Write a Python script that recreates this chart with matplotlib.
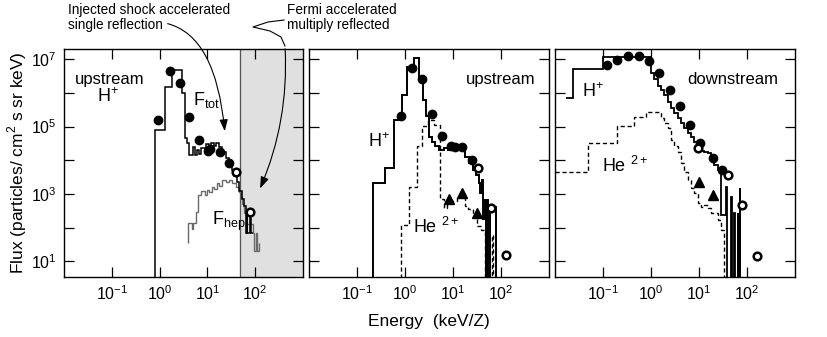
import matplotlib
matplotlib.use("Agg")
import matplotlib.pyplot as plt
import numpy as np
from matplotlib.patches import FancyArrowPatch
from matplotlib.lines import Line2D
from matplotlib.transforms import IdentityTransform

# ---- data: step spectra (bin edges in keV/Z, log10 flux per bin) ----
# panel 1, upstream H+
ftot_e = [0.6, 0.81, 1.27, 1.80, 2.92, 3.43, 3.77, 4.2, 4.95, 5.6, 6.2, 6.8, 7.5, 8.7, 9.5, 11, 12, 14,
          15.5, 17.8, 20, 24.5, 28, 32, 36.5, 41, 46, 52, 58, 64, 66, 68, 78, 80, 88]
ftot_v = [0.3, 4.90, 6.16, 6.68, 5.99, 4.66, 4.51, 4.16, 4.38, 4.16, 4.31, 4.19, 4.37, 4.31, 4.49, 4.40,
          4.52, 4.43, 4.52, 4.40, 4.25, 4.07, 3.86, 3.71, 3.54, 3.36, 3.10, 2.85, 2.65, 1.85, 2.50, 1.85,
          2.50, 1.85]
fhep_e = [4.0, 4.7, 5.0, 5.9, 6.5, 7.5, 8.7, 10, 11, 12.5, 14, 16, 17.8, 20.5, 24.5, 28.7, 33, 39.5,
          46, 50, 53, 58, 64, 88, 96, 102, 110, 118]
fhep_v = [2.15, 1.95, 2.15, 2.48, 2.98, 3.10, 2.97, 3.12, 3.05, 3.22, 3.15, 3.32, 3.25, 3.42, 3.37,
          3.42, 3.32, 3.22, 3.07, 2.90, 2.70, 2.44, 2.10, 1.85, 1.30, 1.85, 1.30]
fhep_base = 1.54
p1_fill_E = [0.92, 1.62, 2.61, 4.22, 6.8, 10.2, 11.4, 18.7, 28.7]
p1_fill_F = [5.20, 6.65, 6.29, 5.28, 4.61, 4.29, 4.33, 4.24, 3.91]
p1_open_E = [39.5, 77.5]
p1_open_F = [3.66, 2.48]
fermi_lo = 47

# panel 2, upstream H+ and He2+
h2_e = [0.15, 0.215, 0.38, 0.59, 0.88, 1.12, 1.54, 1.96, 2.35, 2.8, 3.1, 3.6, 4.3, 5.2, 6.5, 8, 10, 12,
        15, 18, 22, 26, 30, 34, 37, 40, 43, 46, 48, 51, 53, 58, 77, 80]
h2_v = [0.3, 3.32, 3.77, 5.20, 5.94, 6.78, 7.03, 6.48, 5.79, 5.30, 4.69, 4.55, 4.41, 4.31, 4.36, 4.30,
        4.38, 4.33, 4.30, 4.11, 3.92, 3.72, 3.57, 3.33, 3.03, 3.42, 2.25, 2.82, 0.3, 2.82, 0.3, 2.63, 0.3]
he2_e = [0.6, 0.81, 1.21, 1.81, 2.29, 3.0, 4.0, 5.4, 6.5, 7.5, 9, 12, 15, 18, 21, 26, 32, 38, 46, 64,
         67, 75]
he2_v = [0.3, 2.08, 3.22, 4.41, 5.02, 5.20, 5.05, 2.85, 2.60, 2.85, 2.80, 2.95, 2.90, 2.65, 2.55, 2.35,
         2.05, 1.93, 0.3, 1.80, 0.3]
p2_fill_E = [0.81, 1.38, 2.22, 3.6, 5.8, 8.9, 11, 15.6, 24.5]
p2_fill_F = [5.32, 6.73, 6.41, 5.38, 4.72, 4.43, 4.40, 4.39, 4.01]
p2_open_E = [33.7, 63, 125]
p2_open_F = [3.77, 2.58, 1.19]
p2_tri_E = [8.3, 15.2, 31]
p2_tri_F = [2.85, 3.02, 2.43]

# panel 3, downstream H+ and He2+
h3_e = [0.017, 0.024, 0.0986, 1.0, 1.17, 1.38, 1.62, 1.90, 2.22, 2.61, 3.06, 3.59, 4.22, 4.95, 5.81,
        6.81, 8.0, 9.38, 11.0, 12.9, 15.2, 17.8, 20.9, 24.5, 28.7, 37, 38, 47, 48, 54, 55, 64, 65,
        71, 72, 74]
h3_v = [5.84, 6.71, 7.06, 6.58, 6.41, 6.19, 6.09, 5.94, 5.74, 5.55, 5.40, 5.25, 5.10, 4.95, 4.80,
        4.70, 4.55, 4.41, 4.29, 4.26, 4.21, 4.11, 3.86, 3.71, 2.38, 3.22, 0.3, 2.92, 0.3, 2.43, 0.3,
        2.43, 0.3, 3.17, 0.3]
he3_e = [0.01, 0.048, 0.2, 0.45, 0.79, 1.62, 1.90, 2.22, 2.61, 3.06, 3.59, 4.22, 4.95, 5.81, 6.81,
         8.0, 9.38, 11.0, 12.9, 15.2, 17.8, 20.9, 24.5, 28.7, 33.7, 36]
he3_v = [3.64, 4.51, 5.02, 5.27, 5.42, 5.25, 5.10, 4.95, 4.61, 4.41, 4.26, 3.91, 3.66, 3.42, 3.17,
         3.02, 2.73, 2.63, 2.68, 2.58, 2.43, 2.43, 2.23, 1.93, 0.3]
p3_fill_E = [0.121, 0.196, 0.336, 0.55, 0.89, 1.44, 2.45, 4.07, 6.6, 10.6, 19.3, 29.6]
p3_fill_F = [6.83, 6.96, 7.10, 7.08, 6.93, 6.58, 6.09, 5.61, 5.05, 4.51, 4.06, 3.71]
p3_open_E = [9.4, 39.6, 79, 159]
p3_open_F = [4.36, 3.57, 2.68, 1.16]
p3_tri_E = [10.2, 19.9]
p3_tri_F = [3.37, 2.97]

NARROW = ["Liberation Sans Narrow", "Liberation Sans", "DejaVu Sans"]
plt.rcParams.update({"font.family": ["Liberation Sans", "DejaVu Sans"], "axes.linewidth": 1.0})

fig = plt.figure(figsize=(8.28, 3.37), dpi=100)
W, H = 828, 337
def axbox(x0, x1): return [x0 / W, 60 / H, (x1 - x0) / W, 228 / H]
ax1 = fig.add_axes(axbox(64, 303))
ax2 = fig.add_axes(axbox(309, 549))
ax3 = fig.add_axes(axbox(555, 795))

def setup(ax, ylab):
    ax.set_xscale("log"); ax.set_yscale("log")
    ax.set_xlim(1e-2, 1e3); ax.set_ylim(10 ** 0.54, 10 ** 7.3)
    ax.set_xticks([0.1, 1, 10, 100])
    ax.set_yticks([10.0 ** k for k in range(1, 8)])
    ax.minorticks_off()
    ax.tick_params(direction="in", top=True, right=True, length=7, width=0.9,
                   labelsize=11.5, labelfontfamily=NARROW, pad=5)
    if ylab:
        ax.set_yticklabels(["$\\mathdefault{10^{%d}}$" % k if k % 2 else "" for k in range(1, 8)])
    else:
        ax.set_yticklabels([])

def steps(ax, edges, logs, base=None, **kw):
    b = None if base is None else 10 ** base
    ax.stairs(10.0 ** np.array(logs), edges, baseline=b, **kw)

def pts(ax, E, F, kind):
    F = 10.0 ** np.array(F)
    if kind == "fill":
        ax.plot(E, F, "o", color="k", ms=6, zorder=5)
    elif kind == "open":
        ax.plot(E, F, "o", mfc="white", mec="k", mew=1.8, ms=5.5, zorder=5)
    else:
        ax.plot(E, F, "^", color="k", ms=7, zorder=5)

for ax, ylab in [(ax1, True), (ax2, False), (ax3, False)]:
    setup(ax, ylab)

# panel 1
ax1.axvspan(fermi_lo, 1e3, color="#e0e0e0", zorder=0)
ax1.axvline(fermi_lo, color="#555555", lw=0.9, zorder=0.5)
steps(ax1, fhep_e, fhep_v, base=fhep_base, color="#6a6a6a", lw=1.0)
steps(ax1, ftot_e, ftot_v, color="k", lw=1.1)
pts(ax1, p1_fill_E, p1_fill_F, "fill"); pts(ax1, p1_open_E, p1_open_F, "open")
ax1.text(0.046, 0.845, "upstream", transform=ax1.transAxes, fontsize=12, va="baseline")
ax1.text(0.138, 0.768, "H$^{\\mathdefault{+}}$", transform=ax1.transAxes, fontsize=13, va="baseline")
ax1.text(0.54, 0.754, "F$_{\\mathdefault{tot}}$", transform=ax1.transAxes, fontsize=13, va="baseline")
ax1.text(0.618, 0.228, "F$_{\\mathdefault{hep}}$", transform=ax1.transAxes, fontsize=13, va="baseline")

# panel 2
steps(ax2, he2_e, he2_v, color="k", lw=1.0, ls=(0, (3, 2)))
steps(ax2, h2_e, h2_v, color="k", lw=1.4)
pts(ax2, p2_fill_E, p2_fill_F, "fill"); pts(ax2, p2_open_E, p2_open_F, "open")
pts(ax2, p2_tri_E, p2_tri_F, "tri")
ax2.text(0.942, 0.845, "upstream", transform=ax2.transAxes, fontsize=12, va="baseline", ha="right")
ax2.text(0.247, 0.571, "H$^{\\mathdefault{+}}$", transform=ax2.transAxes, fontsize=13, va="baseline")
ax2.text(0.433, 0.193, "He $^{\\mathdefault{2+}}$", transform=ax2.transAxes, fontsize=13, va="baseline")

# panel 3
steps(ax3, he3_e, he3_v, color="k", lw=1.0, ls=(0, (3, 2)))
steps(ax3, h3_e, h3_v, color="k", lw=1.3)
pts(ax3, p3_fill_E, p3_fill_F, "fill"); pts(ax3, p3_open_E, p3_open_F, "open")
pts(ax3, p3_tri_E, p3_tri_F, "tri")
ax3.text(0.929, 0.845, "downstream", transform=ax3.transAxes, fontsize=12, va="baseline", ha="right")
ax3.text(0.111, 0.788, "H$^{\\mathdefault{+}}$", transform=ax3.transAxes, fontsize=13, va="baseline")
ax3.text(0.195, 0.462, "He $^{\\mathdefault{2+}}$", transform=ax3.transAxes, fontsize=13, va="baseline")

# axis labels
fig.text(0.021, 0.518, "Flux (particles/ cm$^{\\mathdefault{2}}$ s sr keV)", rotation=90,
         ha="center", va="center", fontsize=12.5, family=NARROW)
fig.text(429 / W, 0.045, "Energy  (keV/Z)", ha="center", va="center", fontsize=12.5, family=NARROW)

# annotations on top
fig.text(68 / W, 1 - 14 / H, "Injected shock accelerated", fontsize=9.8, va="baseline")
fig.text(68 / W, 1 - 29.5 / H, "single reflection", fontsize=9.8, va="baseline")
fig.text(287 / W, 1 - 14 / H, "Fermi accelerated", fontsize=9.8, va="baseline")
fig.text(287 / W, 1 - 29.5 / H, "multiply reflected", fontsize=9.8, va="baseline")

def px(x, y): return (x, H - y)
a1 = FancyArrowPatch(px(165, 23), px(225, 134), transform=IdentityTransform(),
                     connectionstyle="angle3,angleA=-12,angleB=95",
                     arrowstyle="-|>,head_length=7,head_width=2.5", lw=0.8, color="k", zorder=10)
fig.add_artist(a1)
xs, ys = zip(*[px(284, 20), px(268, 22), px(253, 27), px(270, 31), px(281, 37), px(285, 46)])
fig.add_artist(Line2D(xs, ys, transform=IdentityTransform(), color="k", lw=0.8))
a2 = FancyArrowPatch(px(285, 46), px(259, 191), transform=IdentityTransform(),
                     connectionstyle="arc3,rad=-0.12",
                     arrowstyle="-|>,head_length=7,head_width=2.5", lw=0.8, color="k", zorder=10)
fig.add_artist(a2)

fig.savefig("out.png", dpi=100)
